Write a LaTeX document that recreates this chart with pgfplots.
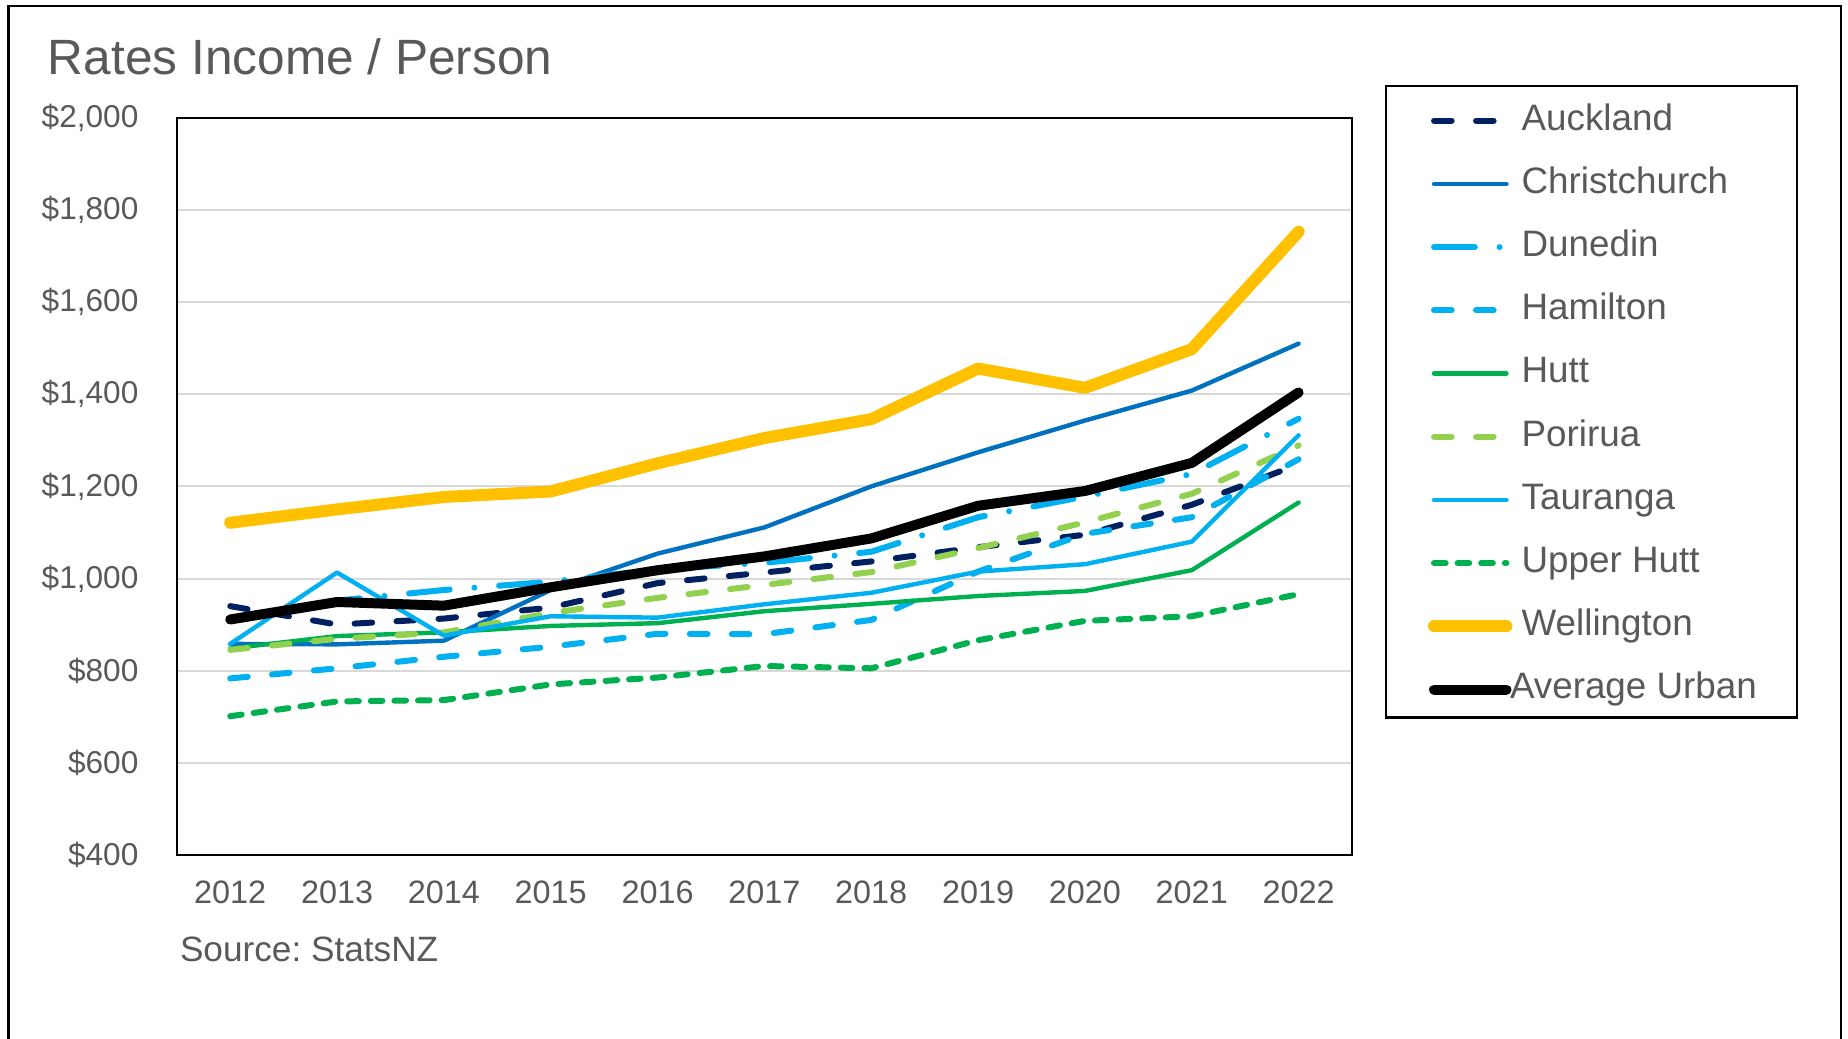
\documentclass[border=0pt]{standalone}
\usepackage{fontspec}
\setmainfont{Liberation Sans}
\usepackage{pgfplots}
\pgfplotsset{compat=1.18}
\definecolor{txt}{HTML}{595959}
\definecolor{gridc}{HTML}{D9D9D9}
\definecolor{cAuck}{HTML}{002060}
\definecolor{cChch}{HTML}{0070C0}
\definecolor{cLblue}{HTML}{00B0F0}
\definecolor{cGreen}{HTML}{00B050}
\definecolor{cLgreen}{HTML}{92D050}
\definecolor{cWell}{HTML}{FFC000}
\begin{document}
\frenchspacing
\begin{tikzpicture}
\useasboundingbox (-44.2pt,-45.9pt) rectangle (417.8pt,213.7pt);
\draw[black, line width=0.6pt] (-42.1pt,-47pt) -- (-42.1pt,212.2pt) -- (416pt,212.2pt) -- (416pt,-47pt);
\node[anchor=base west, inner sep=0pt, font=\fontsize{12.4}{14}\selectfont, text=txt] at (-32.4pt,195.1pt) {Rates Income / Person};
\begin{axis}[
  at={(0pt,0pt)}, anchor=south west,
  width=293.8pt, height=184.2pt, scale only axis,
  xmin=2011.5, xmax=2022.5, ymin=400, ymax=2000,
  xtick={2012,2013,...,2022}, ytick={400,600,...,2000},
  major tick length=0pt,
  ymajorgrids, grid style={color=gridc, line width=0.5pt},
  axis line style={black, line width=0.6pt},
  /pgf/number format/assume math mode=true,
  tick label style={font=\fontsize{8.1}{10}\selectfont, text=txt},
  xticklabel style={/pgf/number format/1000 sep={}, inner sep=0pt, anchor=north, yshift=-6.2pt},
  yticklabel={\$\pgfmathprintnumber{\tick}},
  yticklabel style={inner sep=0pt, anchor=east, xshift=-9.4pt, font=\fontsize{7.9}{10}\selectfont},
  every axis plot/.append style={no markers, line join=round, line cap=round},
  legend image code/.code={\draw[#1] (0pt,0pt) -- (18.1pt,0pt);},
  legend cell align=left,
  legend style={draw=none, fill=none, inner sep=0pt, at={(1.0640,1.0205)}, anchor=north west,
    font=\fontsize{9.2}{11}\selectfont, text=txt, row sep=7.3pt, column sep=2.3pt,
    nodes={inner sep=0pt, text height=6.6pt, text depth=1.9pt}},
]
\addplot[color=cAuck, line width=1.5pt, dash pattern=on 4.4pt off 6.1pt] coordinates {
(2012,940) (2013,900) (2014,913) (2015,937) (2016,990) (2017,1013) (2018,1037) (2019,1068) (2020,1095) (2021,1160) (2022,1248)};
\addlegendentry{Auckland}
\addplot[color=cChch, line width=1.1pt] coordinates {
(2012,858) (2013,857) (2014,865) (2015,975) (2016,1054) (2017,1111) (2018,1200) (2019,1274) (2020,1343) (2021,1408) (2022,1510)};
\addlegendentry{Christchurch}
\addplot[color=cLblue, line width=1.5pt, dash pattern=on 10.2pt off 6.2pt on 0pt off 6.2pt] coordinates {
(2012,912) (2013,952) (2014,975) (2015,993) (2016,1020) (2017,1034) (2018,1058) (2019,1133) (2020,1178) (2021,1227) (2022,1347)};
\addlegendentry{Dunedin}
\addplot[color=cLblue, line width=1.5pt, dash pattern=on 4.4pt off 6.1pt] coordinates {
(2012,783) (2013,805) (2014,830) (2015,852) (2016,880) (2017,879) (2018,910) (2019,1015) (2020,1097) (2021,1133) (2022,1259)};
\addlegendentry{Hamilton}
\addplot[color=cGreen, line width=1.1pt] coordinates {
(2012,848) (2013,875) (2014,883) (2015,897) (2016,903) (2017,929) (2018,945) (2019,962) (2020,973) (2021,1018) (2022,1165)};
\addlegendentry{Hutt}
\addplot[color=cLgreen, line width=1.5pt, dash pattern=on 4.4pt off 6.1pt] coordinates {
(2012,845) (2013,869) (2014,883) (2015,925) (2016,958) (2017,986) (2018,1014) (2019,1066) (2020,1122) (2021,1184) (2022,1289)};
\addlegendentry{Porirua}
\addplot[color=cLblue, line width=1.1pt] coordinates {
(2012,858) (2013,1013) (2014,876) (2015,918) (2016,915) (2017,944) (2018,969) (2019,1015) (2020,1031) (2021,1080) (2022,1311)};
\addlegendentry{Tauranga}
\addplot[color=cGreen, line width=1.5pt, dash pattern=on 2.9pt off 3.0pt] coordinates {
(2012,701) (2013,733) (2014,736) (2015,770) (2016,785) (2017,810) (2018,805) (2019,866) (2020,908) (2021,918) (2022,966)};
\addlegendentry{Upper Hutt}
\addplot[color=cWell, line width=3.0pt] coordinates {
(2012,1121) (2013,1150) (2014,1177) (2015,1189) (2016,1250) (2017,1305) (2018,1346) (2019,1456) (2020,1414) (2021,1498) (2022,1753)};
\addlegendentry{Wellington}
\addplot[color=black, line width=2.5pt] coordinates {
(2012,911) (2013,949) (2014,941) (2015,981) (2016,1018) (2017,1048) (2018,1087) (2019,1158) (2020,1190) (2021,1251) (2022,1404)};
\addlegendentry{\hspace{-2.9pt}Average Urban}
\end{axis}
\draw[black, line width=0.6pt] (302.3pt,34.3pt) rectangle (405.1pt,192.2pt);
\node[anchor=base west, inner sep=0pt, font=\fontsize{8.8}{10}\selectfont, text=txt] at (0.6pt,-26.7pt) {Source: StatsNZ};
\end{tikzpicture}
\end{document}
